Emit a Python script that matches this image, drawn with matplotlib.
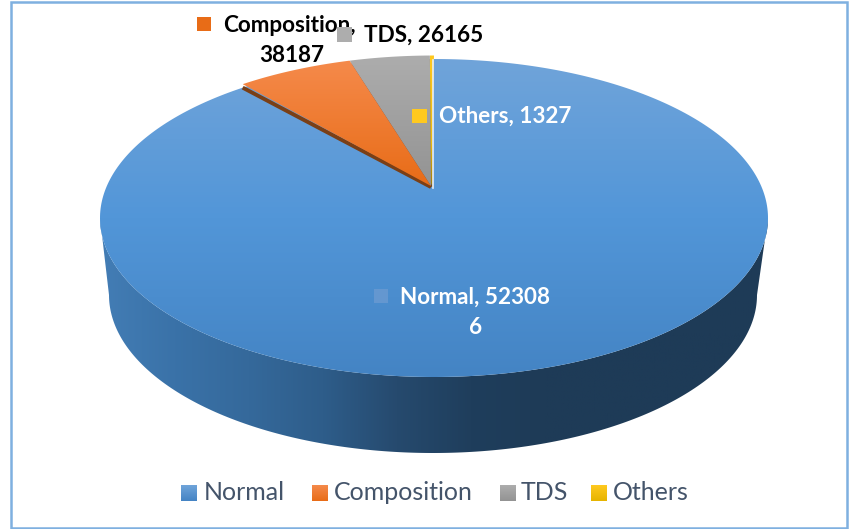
import matplotlib

matplotlib.use("Agg")
import matplotlib.pyplot as plt
import numpy as np
from matplotlib.colors import LinearSegmentedColormap
from matplotlib.patches import Polygon, Rectangle

plt.rcParams["font.family"] = ["Lato", "DejaVu Sans"]

categories = ["Normal", "Composition", "TDS", "Others"]
values = [523086, 38187, 26165, 1327]
top_colors = ["#70a4da", "#f58a4b", "#adadad", "#ffc91f"]
low_colors = ["#4484c4", "#e86c17", "#939393", "#e6b400"]
edge_colors = {1: "#7a3f16", 2: "#55595e", 3: "#a07c10"}

W, H = 853, 529
CX, CY, RX, RY = 434, 218, 334, 159
APEX = (431, 186)
# bottom rim of the wall
BOT_CX, BOT_CY, BOT_RX, BOT_RY = 433, 295, 324, 158
# the small slices are pulled out a little at the back
LIFT = 3.5
# the 3d view squeezes angles near the back of the pie
VIEW_SQUEEZE = 0.87


def rim(theta):
    return CX + RX * np.sin(theta), CY - RY * np.cos(theta)


def gradient(ax, patch, colors, horizontal=False):
    cmap = LinearSegmentedColormap.from_list("g", colors)
    grad = np.linspace(0, 1, 256)
    grad = grad[None, :] if horizontal else grad[:, None]
    x0, y0, x1, y1 = patch.get_extents().transformed(ax.transData.inverted()).extents
    ymin, ymax = min(y0, y1), max(y0, y1)
    im = ax.imshow(grad, cmap=cmap, extent=(x0, x1, ymax, ymin), aspect="auto",
                   zorder=patch.get_zorder())
    im.set_clip_path(patch)


fig = plt.figure(figsize=(W / 100, H / 100), dpi=100)
ax = fig.add_axes([0, 0, 1, 1])
ax.set_xlim(0, W)
ax.set_ylim(H, 0)
ax.axis("off")

ax.add_patch(Rectangle((11, 1.5), 836, 526, fill=False, ec="#7fb0e0", lw=1.8))

# side wall
t = np.linspace(np.pi / 2, 3 * np.pi / 2, 200)
rim_x, rim_y = rim(t)
bot_x = BOT_CX + BOT_RX * np.sin(t)
bot_y = BOT_CY - BOT_RY * np.cos(t)
wall = np.vstack([
    np.column_stack([rim_x, rim_y]),
    np.column_stack([bot_x, bot_y])[::-1],
])
wall_patch = Polygon(wall, closed=True, fc="none", ec="none", zorder=1)
ax.add_patch(wall_patch)
gradient(ax, wall_patch,
         ["#437db5", "#3a72a8", "#35699b", "#2e5d8a", "#264a6e", "#1f3e5c",
          "#1e3b57", "#1e3b57", "#1e3b57", "#1e3b57"],
         horizontal=True)

# top face, slices run counter clockwise from 12 o'clock for the small ones
t = np.linspace(0, 2 * np.pi, 400)
face = Polygon(np.column_stack(rim(t)), closed=True, fc="none", ec="none", zorder=2)
ax.add_patch(face)
gradient(ax, face, [top_colors[0], "#5296d8", low_colors[0]])

total = sum(values)
end = 0.0
for i in [3, 2, 1]:
    start = end
    end = start + values[i] / total * 2 * np.pi * VIEW_SQUEEZE
    arc = np.linspace(-start, -end, 40)
    arc_x, arc_y = rim(arc)
    arc_y = arc_y - LIFT
    pts = np.vstack([[APEX], np.column_stack([arc_x, arc_y])])
    # dark cut edge along the slice's lower side
    ax.plot([APEX[0], arc_x[-1]], [APEX[1] + 1, arc_y[-1] + 3.5], lw=2.8, zorder=3,
            color=edge_colors[i], solid_capstyle="butt")
    wedge = Polygon(pts, closed=True, fc="none", ec="none", zorder=4)
    ax.add_patch(wedge)
    gradient(ax, wedge, [top_colors[i], low_colors[i]])

ax.plot([433.5, 433.5], [60, 188], color="#e8eef5", lw=1.2, zorder=5)

# data labels
label_style = dict(fontsize=16.2, fontweight="bold", ha="left", va="center", zorder=6)
mid_style = dict(label_style, ha="center")
ax.add_patch(Rectangle((197, 17), 14, 14, fc=low_colors[1], zorder=6))
ax.text(223, 25, categories[1] + ",", color="black", **label_style)
ax.text(292, 55, str(values[1]), color="black", **mid_style)
ax.add_patch(Rectangle((337, 27), 15, 15, fc=top_colors[2], zorder=7))
ax.text(364, 35, f"{categories[2]}, {values[2]}", color="black", **label_style)
ax.add_patch(Rectangle((412, 109), 15, 14, fc=top_colors[3], zorder=6))
ax.text(439, 116, f"{categories[3]}, {values[3]}", color="white", **label_style)
ax.add_patch(Rectangle((374, 289), 14, 14, fc="#6497d0", zorder=6))
normal = str(values[0])
ax.text(400, 297, f"{categories[0]}, {normal[:-1]}", color="white", **label_style)
ax.text(476, 328, normal[-1], color="white", **mid_style)

# legend
keys_x = [181, 312, 500, 591]
text_x = [204, 334, 521, 613]
for i, name in enumerate(categories):
    key = Rectangle((keys_x[i], 485), 16, 16, fc="none", ec="none", zorder=6)
    ax.add_patch(key)
    gradient(ax, key, [top_colors[i], low_colors[i]])
    ax.text(text_x[i], 492, name, color="#44546a", fontsize=18, ha="left", va="center")

ax.set_xlim(0, W)
ax.set_ylim(H, 0)
fig.savefig("out.png", dpi=100)
